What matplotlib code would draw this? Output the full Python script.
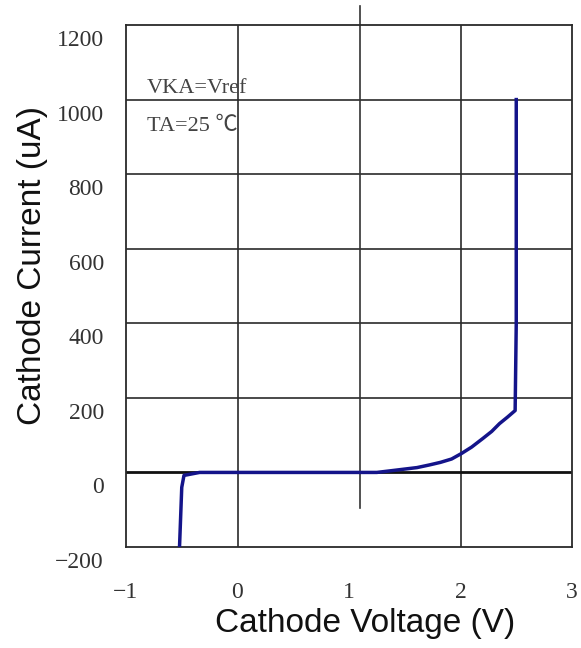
import matplotlib.pyplot as plt
from matplotlib.transforms import ScaledTranslation

# curve (V, uA)
voltage = [-0.52, -0.51, -0.50, -0.48, -0.34, 0.0, 0.5, 1.0, 1.25, 1.39, 1.50,
           1.61, 1.72, 1.82, 1.92, 2.01, 2.10, 2.20, 2.28, 2.35, 2.42, 2.49,
           2.50, 2.50]
current = [-200, -120, -40, -8, 0, 0, 0, 0, 0, 5, 9,
           13, 20, 27, 36, 51, 68, 91, 110, 131, 148, 166,
           400, 1000]

x_ticks = [-1, 0, 1, 2, 3]
x_labels = ["\u22121", "0", "1", "2", "3"]
y_ticks = [-200, 0, 200, 400, 600, 800, 1000, 1200]
y_labels = ["\u2212200", "0", "200", "400", "600", "800", "1000", "1200"]
v_grid = [0, 2]
h_grid = [200, 400, 600, 800, 1000]

# stray vertical line crossing the chart
stray_x = 1.1
stray_y = [-95, 1250]

fig = plt.figure(figsize=(5.81, 6.48), dpi=100)
ax = fig.add_axes([126 / 581, 1 - 547 / 648, 446 / 581, 522 / 648])

ax.set_xlim(-1, 3)
ax.set_ylim(-200, 1200)

for gx in v_grid:
    ax.axvline(gx, color="#2a2a2a", lw=1.2, zorder=1)
for gy in h_grid:
    ax.axhline(gy, color="#2a2a2a", lw=1.2, zorder=1)
ax.axhline(0, color="#111111", lw=2.0, zorder=1)
ax.plot([stray_x, stray_x], stray_y, color="#333333", lw=1.2, clip_on=False, zorder=1)

ax.plot(voltage, current, color="#14148a", lw=2.5, zorder=3)

serif = ["Liberation Serif", "DejaVu Serif"]
ax.set_xticks(x_ticks)
ax.set_xticklabels(x_labels, family=serif, fontsize=17, color="#333333")
ax.set_yticks(y_ticks)
ax.set_yticklabels(y_labels, family=serif, fontsize=17, color="#333333")
ax.tick_params(axis="x", length=0, pad=25)
ax.tick_params(axis="y", length=0, pad=16)
# y tick labels sit a little below their grid lines in the reference
shift = ScaledTranslation(0, -13 / 100, fig.dpi_scale_trans)
for lab in ax.get_yticklabels():
    lab.set_transform(lab.get_transform() + shift)

for s in ax.spines.values():
    s.set_color("#2a2a2a")
    s.set_linewidth(1.3)

ax.set_xlabel("Cathode Voltage (V)", family="Liberation Sans", fontsize=24,
              color="#111111")
ax.set_ylabel("Cathode Current (uA)", family="Liberation Sans", fontsize=24,
              color="#111111")
ax.xaxis.set_label_coords(0.536, -0.117)
ax.yaxis.set_label_coords(-0.176, 0.54)

note_font = ["Liberation Serif", "Noto Sans CJK SC"]
ax.text(0.047, 0.870, "VKA=Vref", transform=ax.transAxes, fontsize=16,
        family=note_font, color="#444444", va="baseline")
ax.text(0.047, 0.797, "TA=25 \u2103", transform=ax.transAxes, fontsize=16,
        family=note_font, color="#444444", va="baseline")

fig.savefig("out.png", dpi=100)
